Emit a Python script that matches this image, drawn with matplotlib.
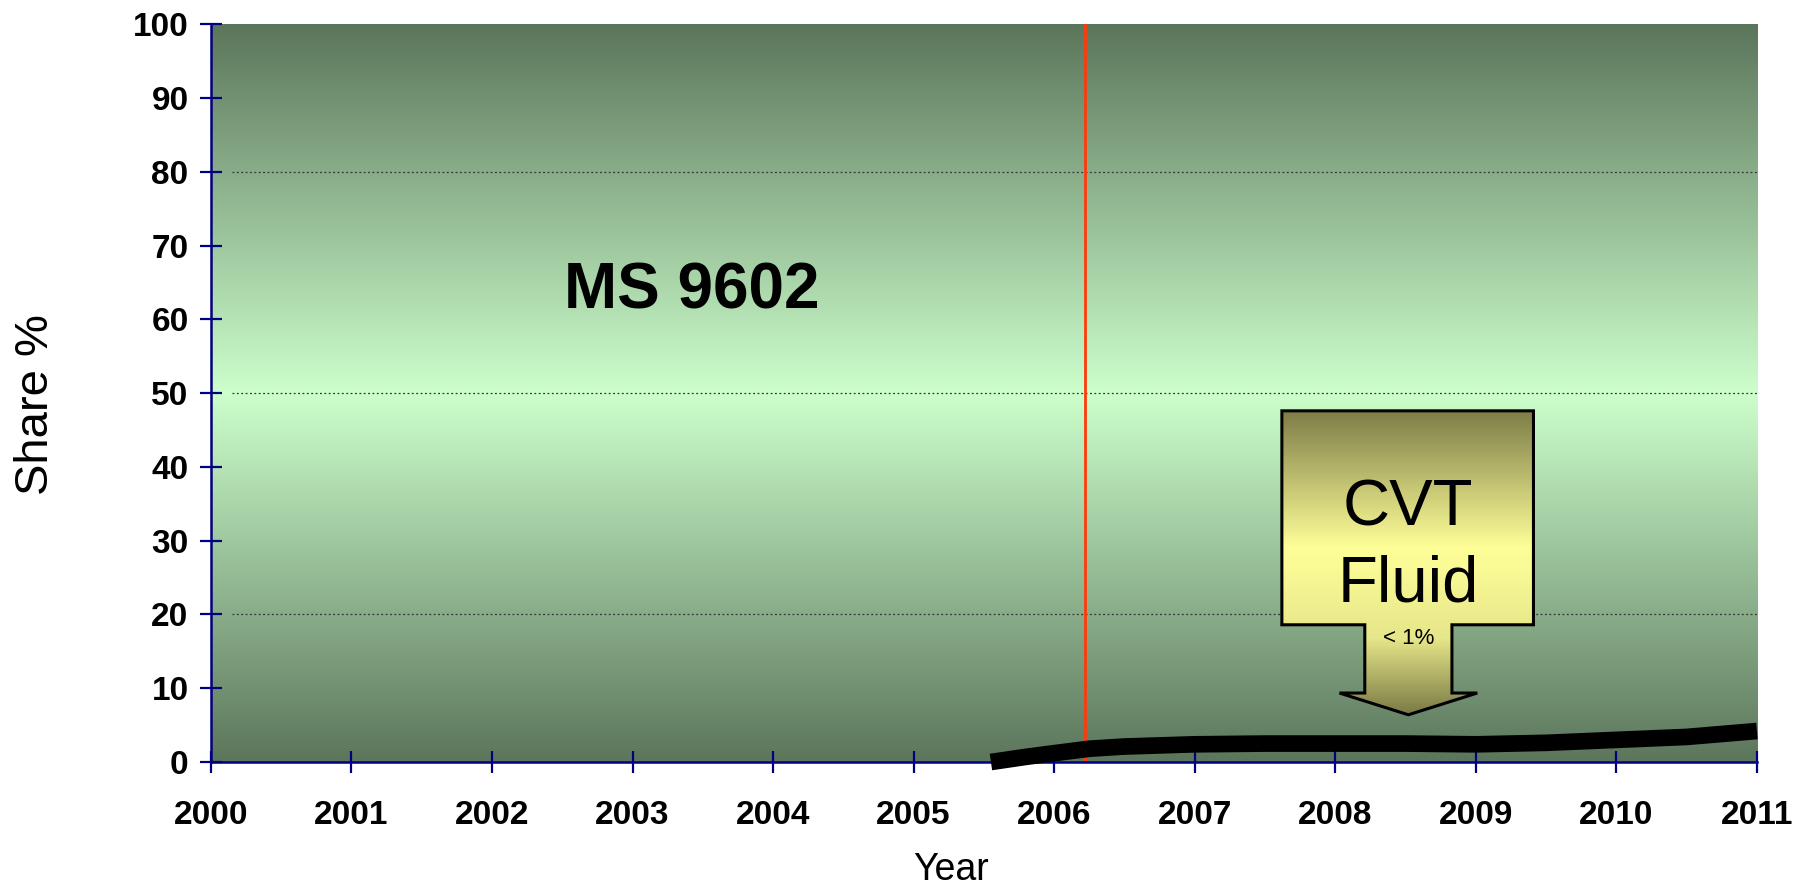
import numpy as np
import matplotlib.pyplot as plt
from matplotlib.colors import LinearSegmentedColormap
from matplotlib.patches import Polygon

plt.rcParams['font.family'] = ['Liberation Sans', 'DejaVu Sans']

# data
years = [2005.55, 2005.8, 2006.0, 2006.25, 2006.5, 2007.0, 2007.5, 2008.0,
         2008.5, 2009.0, 2009.5, 2010.0, 2010.5, 2011.0]
cvt_share = [0.0, 0.7, 1.2, 1.8, 2.1, 2.4, 2.5, 2.5, 2.5, 2.4, 2.6, 3.0, 3.4, 4.2]
x_ticks = list(range(2000, 2012))
y_ticks = list(range(0, 101, 10))
grid_levels = [20, 50, 80]
marker_year = 2006.22

fig = plt.figure(figsize=(18.02, 8.90), dpi=100)
ax = fig.add_axes([0.117, 0.1438, 0.858, 0.829])
ax.set_xlim(2000, 2011)
ax.set_ylim(0, 100)

# background gradient: dark at top/bottom, pale green in the middle
bg_cmap = LinearSegmentedColormap.from_list('bg', ['#ccffcc', '#5c765c'])
yy = np.linspace(0, 100, 300)
grad = np.abs(yy - 50)[:, None] / 50
ax.imshow(grad, extent=[2000, 2011, 0, 100], origin='lower', aspect='auto',
          cmap=bg_cmap, vmin=0, vmax=1, zorder=0)

for g in grid_levels:
    ax.axhline(g, xmin=0.0136, xmax=1, color='#333333', lw=0.9, ls=(0, (1.5, 2)), zorder=1)

ax.axvline(marker_year, color='#ff3a0a', lw=2.0, zorder=2)

# callout arrow
bx0, bx1, btop, bbot = 7.62, 9.41, 47.6, 18.6
sx0, sx1, sbase = 8.21, 8.83, 9.35
wx0, wx1, tipx, tipy = 8.03, 9.01, 8.52, 6.4
pts = [(bx0, btop), (bx1, btop), (bx1, bbot), (sx1, bbot), (sx1, sbase),
       (wx1, sbase), (tipx, tipy), (wx0, sbase), (sx0, sbase), (sx0, bbot), (bx0, bbot)]
pts = [(2000 + px, py) for px, py in pts]
arrow = Polygon(pts, closed=True, facecolor='none', edgecolor='black', lw=2.2, zorder=4)
ax.add_patch(arrow)
arr_cmap = LinearSegmentedColormap.from_list(
    'arr', [(0.0, '#7e7e48'), (0.45, '#ffff99'), (0.75, '#e6e68a'), (1.0, '#7a7a45')])
ay = np.linspace(0, 1, 300)[:, None]
img = ax.imshow(ay, extent=[2000 + bx0, 2000 + bx1, btop, tipy], origin='lower',
                aspect='auto', cmap=arr_cmap, zorder=3)
fill_clip = Polygon(pts, closed=True, transform=ax.transData)
img.set_clip_path(fill_clip)

ax.text(2008.52, 34.4, 'CVT', fontsize=47, ha='center', va='center', zorder=5)
ax.text(2008.52, 24.0, 'Fluid', fontsize=47, ha='center', va='center', zorder=5)
ax.text(2008.52, 16.8, '< 1%', fontsize=16, ha='center', va='center', zorder=5)

ax.text(2003.42, 63.8, 'MS 9602', fontsize=46, fontweight='bold', ha='center', va='center', zorder=5)

ax.plot(years, cvt_share, color='black', lw=12, solid_capstyle='butt',
        solid_joinstyle='round', clip_on=False, zorder=6)

# axes styling
for side in ['top', 'right']:
    ax.spines[side].set_visible(False)
for side in ['left', 'bottom']:
    ax.spines[side].set_color('#000080')
    ax.spines[side].set_linewidth(1.8)
    ax.spines[side].set_zorder(5)

ax.set_xticks(x_ticks)
ax.set_yticks(y_ticks)
ax.set_xticklabels([str(t) for t in x_ticks], fontsize=24, fontweight='bold')
ax.set_yticklabels([str(t) for t in y_ticks], fontsize=24, fontweight='bold')
ax.tick_params(axis='both', direction='inout', length=16, width=1.6, color='#000080')
ax.tick_params(axis='x', pad=19)
ax.tick_params(axis='y', pad=8)

fig.text(951 / 1802, 1 - 870 / 890, 'Year', fontsize=27, ha='center', va='center')
fig.text(36 / 1802, 1 - 405 / 890, 'Share %', fontsize=34, ha='center', va='center', rotation=90)

fig.savefig('out.png', dpi=100)
